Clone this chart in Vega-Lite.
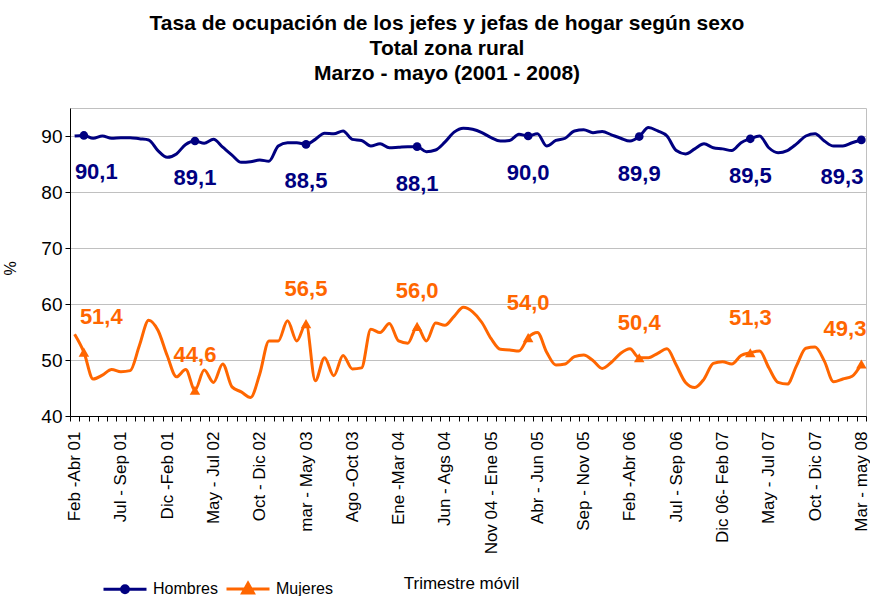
{
  "$schema": "https://vega.github.io/schema/vega-lite/v6.json",
  "width": 796,
  "height": 308,
  "autosize": {"type": "none"},
  "padding": {"left": 70, "top": 108, "right": 4, "bottom": 180},
  "background": "white",
  "title": {
    "text": ["Tasa de ocupación de los jefes y jefas de hogar según sexo", "Total zona rural", "Marzo - mayo (2001 - 2008)"],
    "fontSize": 21, "fontWeight": "bold", "color": "black", "anchor": "middle", "dx": -21, "lineHeight": 25, "offset": 24
  },
  "config": {
    "font": "Liberation Sans",
    "view": {"stroke": "#C0C0C0", "strokeWidth": 1},
    "locale": {"number": {"decimal": ",", "thousands": ".", "grouping": [3], "currency": ["", " €"]}}
  },
  "data": {
    "values": [
      {"i": 0, "p": "Feb -Abr 01", "Hombres": 90.0, "Mujeres": 54.6},
      {"i": 1, "p": "Mar - May 01", "Hombres": 90.1, "Mujeres": 51.4},
      {"i": 2, "p": "Abr - Jun 01", "Hombres": 89.6, "Mujeres": 46.6},
      {"i": 3, "p": "May - Jul 01", "Hombres": 90.0, "Mujeres": 47.3},
      {"i": 4, "p": "Jun - Ago 01", "Hombres": 89.6, "Mujeres": 48.3},
      {"i": 5, "p": "Jul - Sep 01", "Hombres": 89.7, "Mujeres": 47.9},
      {"i": 6, "p": "Ago - Oct 01", "Hombres": 89.7, "Mujeres": 48.1},
      {"i": 7, "p": "Sep - Nov 01", "Hombres": 89.5, "Mujeres": 52.6},
      {"i": 8, "p": "Oct - Dic 01", "Hombres": 89.3, "Mujeres": 57.1},
      {"i": 9, "p": "Nov 01 - Ene 02", "Hombres": 87.4, "Mujeres": 55.3},
      {"i": 10, "p": "Dic -Feb 01", "Hombres": 86.2, "Mujeres": 50.8},
      {"i": 11, "p": "Ene - Mar 02", "Hombres": 86.8, "Mujeres": 47.0},
      {"i": 12, "p": "Feb - Abr 02", "Hombres": 88.5, "Mujeres": 48.3},
      {"i": 13, "p": "Mar - May 02", "Hombres": 89.1, "Mujeres": 44.6},
      {"i": 14, "p": "Abr - Jun 02", "Hombres": 88.7, "Mujeres": 48.2},
      {"i": 15, "p": "May - Jul 02", "Hombres": 89.4, "Mujeres": 46.0},
      {"i": 16, "p": "Jun - Ago 02", "Hombres": 88.0, "Mujeres": 49.3},
      {"i": 17, "p": "Jul - Sep 02", "Hombres": 86.6, "Mujeres": 45.2},
      {"i": 18, "p": "Ago - Oct 02", "Hombres": 85.3, "Mujeres": 44.3},
      {"i": 19, "p": "Sep - Nov 02", "Hombres": 85.4, "Mujeres": 43.3},
      {"i": 20, "p": "Oct - Dic 02", "Hombres": 85.7, "Mujeres": 47.5},
      {"i": 21, "p": "Nov 02 - Ene 03", "Hombres": 85.5, "Mujeres": 53.4},
      {"i": 22, "p": "Dic 02 - Feb 03", "Hombres": 88.2, "Mujeres": 53.4},
      {"i": 23, "p": "Ene - Mar 03", "Hombres": 88.8, "Mujeres": 57.0},
      {"i": 24, "p": "Feb - Abr 03", "Hombres": 88.8, "Mujeres": 53.4},
      {"i": 25, "p": "mar - May 03", "Hombres": 88.5, "Mujeres": 56.5},
      {"i": 26, "p": "Abr - Jun 03", "Hombres": 89.4, "Mujeres": 46.3},
      {"i": 27, "p": "May - Jul 03", "Hombres": 90.5, "Mujeres": 50.4},
      {"i": 28, "p": "Jun - Ago 03", "Hombres": 90.4, "Mujeres": 47.2},
      {"i": 29, "p": "Jul - Sep 03", "Hombres": 90.9, "Mujeres": 50.8},
      {"i": 30, "p": "Ago -Oct 03", "Hombres": 89.4, "Mujeres": 48.4},
      {"i": 31, "p": "Sep - Nov 03", "Hombres": 89.2, "Mujeres": 48.6},
      {"i": 32, "p": "Oct - Dic 03", "Hombres": 88.2, "Mujeres": 55.5},
      {"i": 33, "p": "Nov 03 - Ene 04", "Hombres": 88.6, "Mujeres": 54.9},
      {"i": 34, "p": "Dic 03 - Feb 04", "Hombres": 87.9, "Mujeres": 56.5},
      {"i": 35, "p": "Ene -Mar 04", "Hombres": 88.0, "Mujeres": 53.4},
      {"i": 36, "p": "Feb - Abr 04", "Hombres": 88.1, "Mujeres": 53.0},
      {"i": 37, "p": "Mar - May 04", "Hombres": 88.1, "Mujeres": 56.0},
      {"i": 38, "p": "Abr - Jun 04", "Hombres": 87.2, "Mujeres": 53.4},
      {"i": 39, "p": "May - Jul 04", "Hombres": 87.5, "Mujeres": 56.6},
      {"i": 40, "p": "Jun - Ags 04", "Hombres": 88.9, "Mujeres": 56.2},
      {"i": 41, "p": "Jul - Sep 04", "Hombres": 90.7, "Mujeres": 57.8},
      {"i": 42, "p": "Ago - Oct 04", "Hombres": 91.4, "Mujeres": 59.4},
      {"i": 43, "p": "Sep - Nov 04", "Hombres": 91.2, "Mujeres": 58.6},
      {"i": 44, "p": "Oct - Dic 04", "Hombres": 90.6, "Mujeres": 56.7},
      {"i": 45, "p": "Nov 04 - Ene 05", "Hombres": 89.7, "Mujeres": 53.8},
      {"i": 46, "p": "Dic 04 - Feb 05", "Hombres": 89.1, "Mujeres": 51.9},
      {"i": 47, "p": "Ene - Mar 05", "Hombres": 89.2, "Mujeres": 51.8},
      {"i": 48, "p": "Feb - Abr 05", "Hombres": 90.3, "Mujeres": 51.6},
      {"i": 49, "p": "Mar - May 05", "Hombres": 90.0, "Mujeres": 54.0},
      {"i": 50, "p": "Abr - Jun 05", "Hombres": 90.4, "Mujeres": 54.9},
      {"i": 51, "p": "May - Jul 05", "Hombres": 88.2, "Mujeres": 51.4},
      {"i": 52, "p": "Jun - Ago 05", "Hombres": 89.2, "Mujeres": 49.1},
      {"i": 53, "p": "Jul - Sep 05", "Hombres": 89.6, "Mujeres": 49.3},
      {"i": 54, "p": "Ago - Oct 05", "Hombres": 90.9, "Mujeres": 50.6},
      {"i": 55, "p": "Sep - Nov 05", "Hombres": 91.1, "Mujeres": 50.9},
      {"i": 56, "p": "Oct - Dic 05", "Hombres": 90.6, "Mujeres": 49.9},
      {"i": 57, "p": "Nov 05 - Ene 06", "Hombres": 90.8, "Mujeres": 48.5},
      {"i": 58, "p": "Dic 05 - Feb 06", "Hombres": 90.2, "Mujeres": 49.6},
      {"i": 59, "p": "Ene - Mar 06", "Hombres": 89.6, "Mujeres": 51.2},
      {"i": 60, "p": "Feb -Abr 06", "Hombres": 89.1, "Mujeres": 52.0},
      {"i": 61, "p": "Mar - May 06", "Hombres": 89.9, "Mujeres": 50.4},
      {"i": 62, "p": "Abr - Jun 06", "Hombres": 91.5, "Mujeres": 50.4},
      {"i": 63, "p": "May - Jul 06", "Hombres": 90.9, "Mujeres": 51.2},
      {"i": 64, "p": "Jun - Ago 06", "Hombres": 90.0, "Mujeres": 52.0},
      {"i": 65, "p": "Jul - Sep 06", "Hombres": 87.4, "Mujeres": 49.1},
      {"i": 66, "p": "Ago - Oct 06", "Hombres": 86.8, "Mujeres": 46.0},
      {"i": 67, "p": "Sep - Nov 06", "Hombres": 87.7, "Mujeres": 45.1},
      {"i": 68, "p": "Oct - Dic 06", "Hombres": 88.6, "Mujeres": 46.6},
      {"i": 69, "p": "Nov 06 - Ene 07", "Hombres": 87.9, "Mujeres": 49.4},
      {"i": 70, "p": "Dic 06- Feb 07", "Hombres": 87.7, "Mujeres": 49.7},
      {"i": 71, "p": "Ene - Mar 07", "Hombres": 87.4, "Mujeres": 49.3},
      {"i": 72, "p": "Feb - Abr 07", "Hombres": 88.8, "Mujeres": 50.8},
      {"i": 73, "p": "Mar - May 07", "Hombres": 89.5, "Mujeres": 51.3},
      {"i": 74, "p": "Abr - Jun 07", "Hombres": 90.0, "Mujeres": 51.6},
      {"i": 75, "p": "May - Jul 07", "Hombres": 87.9, "Mujeres": 48.6},
      {"i": 76, "p": "Jun - Ago 07", "Hombres": 87.0, "Mujeres": 46.0},
      {"i": 77, "p": "Jul - Sep 07", "Hombres": 87.4, "Mujeres": 45.7},
      {"i": 78, "p": "Ago - Oct 07", "Hombres": 88.6, "Mujeres": 49.0},
      {"i": 79, "p": "Sep - Nov 07", "Hombres": 90.0, "Mujeres": 52.1},
      {"i": 80, "p": "Oct - Dic 07", "Hombres": 90.4, "Mujeres": 52.3},
      {"i": 81, "p": "Nov 07 - Ene 08", "Hombres": 89.1, "Mujeres": 49.8},
      {"i": 82, "p": "Dic 07 - Feb 08", "Hombres": 88.2, "Mujeres": 46.1},
      {"i": 83, "p": "Ene - Mar 08", "Hombres": 88.2, "Mujeres": 46.6},
      {"i": 84, "p": "Feb - Abr 08", "Hombres": 88.8, "Mujeres": 47.1},
      {"i": 85, "p": "Mar - may 08", "Hombres": 89.3, "Mujeres": 49.3}
    ]
  },
  "transform": [{"fold": ["Hombres", "Mujeres"], "as": ["s", "v"]}],
  "encoding": {
    "x": {
      "field": "p", "type": "ordinal",
      "sort": {"field": "i", "op": "min"},
      "scale": {"type": "band", "paddingInner": 0, "paddingOuter": 0},
      "axis": {
        "labelAngle": -90, "labelAlign": "right", "labelBaseline": "middle",
        "labelFontSize": 17, "labelColor": "black", "labelPadding": 10,
        "labelExpr": "indexof(['Feb -Abr 01','Jul - Sep 01','Dic -Feb 01','May - Jul 02','Oct - Dic 02','mar - May 03','Ago -Oct 03','Ene -Mar 04','Jun - Ags 04','Nov 04 - Ene 05','Abr - Jun 05','Sep - Nov 05','Feb -Abr 06','Jul - Sep 06','Dic 06- Feb 07','May - Jul 07','Oct - Dic 07','Mar - may 08'], datum.value) >= 0 ? datum.value : ''",
        "tickBand": "extent", "ticks": true, "tickSize": 5, "tickColor": "black",
        "domainColor": "black", "domainWidth": 1, "grid": false,
        "title": "Trimestre móvil", "titleFontSize": 17, "titleFontWeight": "normal", "titleColor": "black",
        "titleX": 391, "titleY": 172, "titleBaseline": "alphabetic"
      }
    },
    "y": {
      "field": "v", "type": "quantitative",
      "scale": {"domain": [40, 95], "nice": false, "zero": false},
      "axis": {
        "values": [40, 50, 60, 70, 80, 90], "grid": true, "gridColor": "#C0C0C0", "gridWidth": 1,
        "labelFontSize": 19, "labelColor": "black", "labelPadding": 3,
        "tickSize": 5, "tickColor": "black", "domainColor": "black", "domainWidth": 1,
        "title": "%", "titleFontSize": 16, "titleFontWeight": "normal", "titleColor": "black",
        "titleAngle": -90, "titleX": -52, "titleY": 160
      }
    }
  },
  "layer": [
    {
      "mark": {"type": "line", "strokeWidth": 3, "interpolate": "monotone"},
      "encoding": {
        "color": {
          "field": "s", "type": "nominal",
          "scale": {"domain": ["Hombres", "Mujeres"], "range": ["#000080", "#FF6600"]},
          "legend": {
            "orient": "none", "legendX": 32, "legendY": 458, "direction": "horizontal", "columns": 2,
            "title": null, "labelFontSize": 16, "labelColor": "black", "labelOffset": 5, "columnPadding": 2,
            "padding": 0, "symbolSize": 1849, "symbolStrokeWidth": 3,
            "encode": {
              "symbols": {
                "update": {
                  "shape": {"signal": "datum.value === 'Hombres' ? 'M-1,0H1M0.16,0A0.16,0.16,0,1,1,-0.16,0A0.16,0.16,0,1,1,0.16,0Z' : 'M-1,0H1M0,-0.27L0.25,0.18L-0.25,0.18Z'"},
                  "fill": {"signal": "datum.value === 'Hombres' ? '#000080' : '#FF6600'"},
                  "stroke": {"signal": "datum.value === 'Hombres' ? '#000080' : '#FF6600'"},
                  "strokeWidth": {"value": 3}
                }
              }
            }
          }
        }
      }
    },
    {
      "transform": [{"filter": "datum.s === 'Hombres' && (datum.i - 1) % 12 === 0"}],
      "mark": {"type": "point", "shape": "circle", "filled": true, "size": 75, "opacity": 1, "color": "#000080"}
    },
    {
      "transform": [{"filter": "datum.s === 'Mujeres' && (datum.i - 1) % 12 === 0"}],
      "mark": {"type": "point", "shape": "triangle-up", "filled": true, "size": 110, "opacity": 1, "color": "#FF6600"}
    },
    {
      "transform": [{"filter": "datum.s === 'Hombres' && (datum.i - 1) % 12 === 0 && datum.i > 1 && datum.i < 85"}],
      "mark": {"type": "text", "fontSize": 22, "fontWeight": "bold", "color": "#000080", "dy": 37, "align": "center", "baseline": "middle"},
      "encoding": {"text": {"field": "v", "type": "quantitative", "format": ".1f"}}
    },
    {
      "transform": [{"filter": "datum.s === 'Hombres' && datum.i === 1"}],
      "mark": {"type": "text", "fontSize": 22, "fontWeight": "bold", "color": "#000080", "dy": 37, "dx": -9, "align": "left", "baseline": "middle"},
      "encoding": {"text": {"field": "v", "type": "quantitative", "format": ".1f"}}
    },
    {
      "transform": [{"filter": "datum.s === 'Hombres' && datum.i === 85"}],
      "mark": {"type": "text", "fontSize": 22, "fontWeight": "bold", "color": "#000080", "dy": 37, "dx": 2, "align": "right", "baseline": "middle"},
      "encoding": {"text": {"field": "v", "type": "quantitative", "format": ".1f"}}
    },
    {
      "transform": [{"filter": "datum.s === 'Mujeres' && (datum.i - 1) % 12 === 0 && datum.i > 1 && datum.i < 85"}],
      "mark": {"type": "text", "fontSize": 22, "fontWeight": "bold", "color": "#FF6600", "dy": -35, "align": "center", "baseline": "middle"},
      "encoding": {"text": {"field": "v", "type": "quantitative", "format": ".1f"}}
    },
    {
      "transform": [{"filter": "datum.s === 'Mujeres' && datum.i === 1"}],
      "mark": {"type": "text", "fontSize": 22, "fontWeight": "bold", "color": "#FF6600", "dy": -35, "dx": -4, "align": "left", "baseline": "middle"},
      "encoding": {"text": {"field": "v", "type": "quantitative", "format": ".1f"}}
    },
    {
      "transform": [{"filter": "datum.s === 'Mujeres' && datum.i === 85"}],
      "mark": {"type": "text", "fontSize": 22, "fontWeight": "bold", "color": "#FF6600", "dy": -35, "dx": 5, "align": "right", "baseline": "middle"},
      "encoding": {"text": {"field": "v", "type": "quantitative", "format": ".1f"}}
    }
  ]
}
